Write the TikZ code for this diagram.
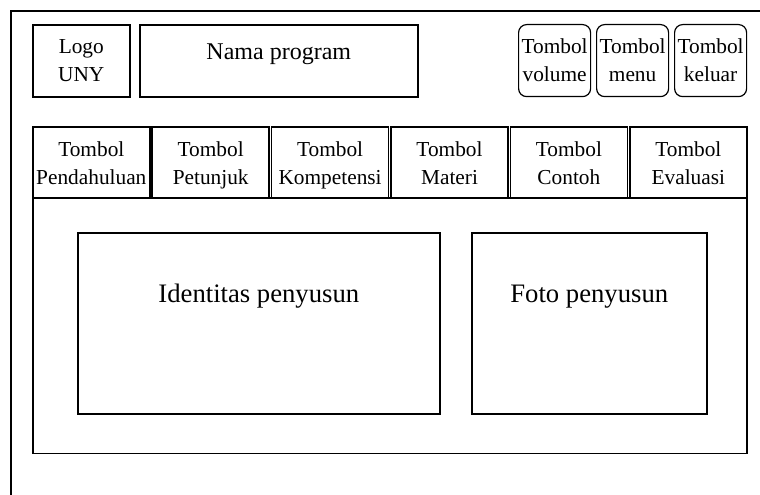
\documentclass[tikz,border=0pt]{standalone}
\usepackage{fontspec}
\setmainfont{Liberation Serif}
\usetikzlibrary{positioning}

\begin{document}
\begin{tikzpicture}[x=0.75pt,y=-0.75pt,
    box/.style={draw,line width=1.2pt,anchor=north west,inner sep=0pt},
    tab/.style={box,minimum width=87.75pt,minimum height=53.25pt,align=center,font=\fontsize{16}{21}\selectfont,text depth=0pt},
    btn/.style={draw,line width=0.9pt,rounded corners=6pt,minimum width=54pt,minimum height=54pt,inner sep=0pt,align=center,font=\fontsize{16}{21}\selectfont,text depth=0pt}]
    \useasboundingbox (0,0) rectangle (760,495);
    % bingkai layar
    \draw[line width=1.2pt] (11,495) -- (11,11) -- (760,11);
    % bagian atas
    \node[box,minimum width=72.75pt,minimum height=54pt,align=center,font=\fontsize{16}{21}\selectfont] (logo) at (32,24) {Logo\\UNY};
    \node[box,minimum width=208.5pt,minimum height=54pt,label={[anchor=base,yshift=-26.5pt,font=\fontsize{18}{22}\selectfont]north:Nama program}] (nama) at (139,24) {};
    \node[btn,anchor=north west] (volume) at (518,24) {Tombol\\volume};
    \node[btn,right=3.6pt of volume] (menu) {Tombol\\menu};
    \node[btn,right=3.6pt of menu] (keluar) {Tombol\\keluar};
    % tombol navigasi
    \node[tab] (pendahuluan) at (32,126.5) {Tombol\\Pendahuluan};
    \node[tab,right=0.6pt of pendahuluan] (petunjuk) {Tombol\\Petunjuk};
    \node[tab,right=0.6pt of petunjuk] (kompetensi) {Tombol\\Kompetensi};
    \node[tab,right=0.6pt of kompetensi] (materi) {Tombol\\Materi};
    \node[tab,right=0.6pt of materi] (contoh) {Tombol\\Contoh};
    \node[tab,right=0.6pt of contoh] (evaluasi) {Tombol\\Evaluasi};
    % isi halaman
    \node[box,minimum width=535.5pt,minimum height=191.25pt] (isi) at (32,197.5) {};
    \node[box,minimum width=271.5pt,minimum height=135.75pt,label={[anchor=base,yshift=-52.5pt,font=\fontsize{20}{24}\selectfont]north:Identitas penyusun}] (identitas) at (77,232) {};
    \node[box,minimum width=176.25pt,minimum height=135.75pt,label={[anchor=base,yshift=-52.5pt,font=\fontsize{20}{24}\selectfont]north:Foto penyusun}] (foto) at (471,232) {};
\end{tikzpicture}
\end{document}
